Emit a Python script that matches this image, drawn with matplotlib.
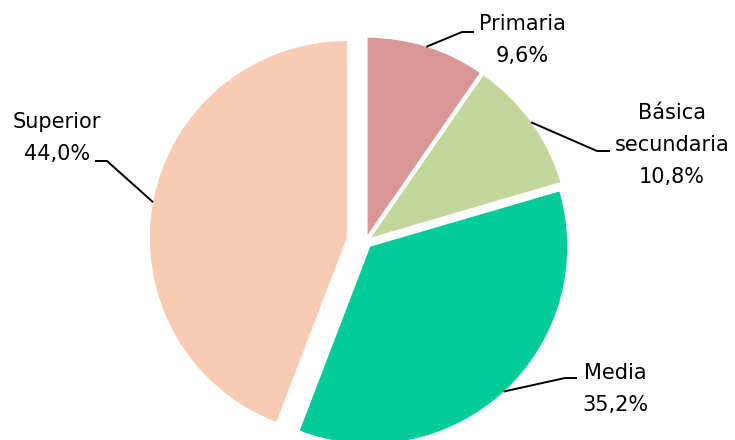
import math
import matplotlib
matplotlib.use("Agg")
import matplotlib.pyplot as plt

# data
categories = ["Primaria", "Básica\nsecundaria", "Media", "Superior"]
shares = [9.6, 10.8, 35.2, 44.0]
colors = ["#D99694", "#C4D79B", "#00CC99", "#F8CBB4"]

W, H = 735, 440

# layout in pixel units (y measured from top, flipped below)
center_px = (365.5, 241.5)
radius_px = 197
explode_px = [7, 7, 7, 19]
label_pos = [(522, 40), (672, 145), (615, 389), (57, 138)]
leader_knee = [(462, 32, 474), (597, 151, 610), (565, 378, 577), (107, 161, 95)]

fig = plt.figure(figsize=(W / 100, H / 100), dpi=100)
ax = fig.add_axes([0, 0, 1, 1])

wedges, _ = ax.pie(shares, colors=colors, startangle=90, counterclock=False,
                   center=(center_px[0], H - center_px[1]), radius=radius_px,
                   explode=explode_px, wedgeprops=dict(linewidth=0))

ax.set_xlim(0, W)
ax.set_ylim(0, H)
ax.set_aspect("equal")
ax.axis("off")

for w, cat, val, (lx, ly), (kx, ky, ex) in zip(wedges, categories, shares, label_pos, leader_knee):
    mid = math.radians((w.theta1 + w.theta2) / 2)
    sx = w.center[0] + w.r * math.cos(mid)
    sy = w.center[1] + w.r * math.sin(mid)
    ax.plot([sx, kx, ex], [sy, H - ky, H - ky], color="black", lw=1.4,
            solid_capstyle="butt", solid_joinstyle="miter")
    txt = f"{cat}\n{val:.1f}".replace(".", ",") + "%"
    ax.text(lx, H - ly, txt, ha="center", va="center", multialignment="center",
            fontsize=15, family="DejaVu Sans", color="black", linespacing=1.78)

plt.savefig("out.png", dpi=100)
